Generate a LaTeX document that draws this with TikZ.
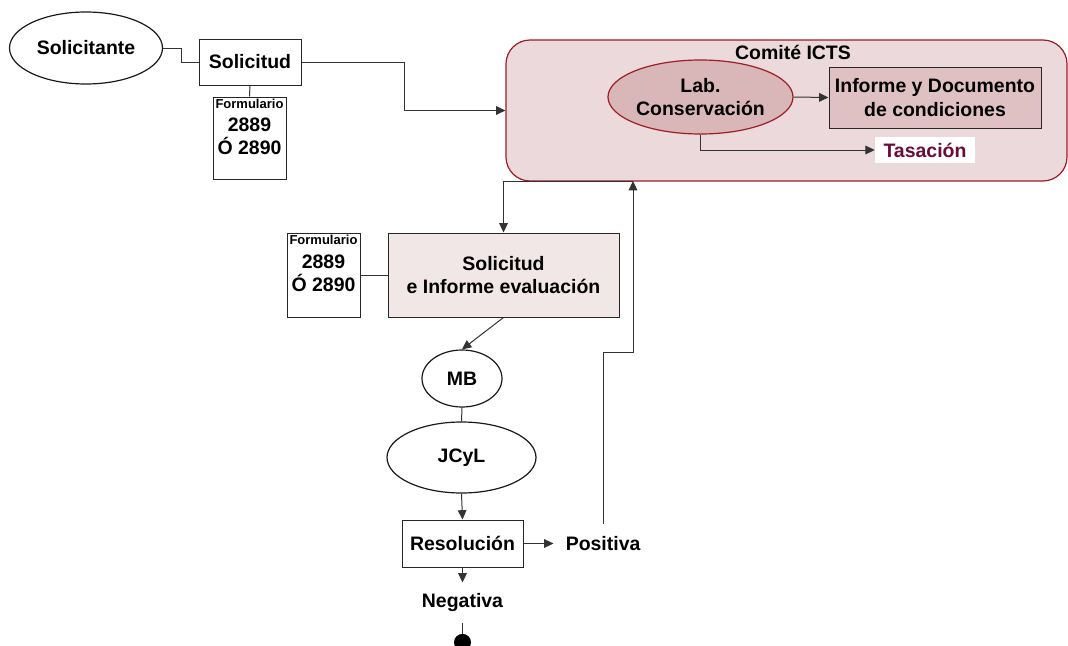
\documentclass[tikz,border=0pt]{standalone}
\usepackage{fontspec}
\setmainfont{Liberation Sans}
\usetikzlibrary{shapes.geometric, arrows.meta, positioning}
\definecolor{comitepink}{RGB}{235,217,219}
\definecolor{comitered}{RGB}{158,28,36}
\definecolor{labpink}{RGB}{217,183,184}
\definecolor{informepink}{RGB}{224,193,195}
\definecolor{evalpink}{RGB}{242,231,231}
\definecolor{tasacionwine}{RGB}{106,12,58}

\begin{document}
\begin{tikzpicture}[
        x=0.75pt, y=-0.75pt,
        txt/.style={font=\fontsize{14.6}{17.5}\selectfont\bfseries, align=center},
        box/.style={txt, draw=black!85, line width=0.75pt, inner sep=0pt},
        oval/.style={txt, ellipse, draw=black!90, line width=0.9pt, inner sep=0pt},
        formbox/.style={draw=black!85, line width=0.75pt, minimum width=54.75pt, minimum height=61.5pt, inner sep=0pt},
        line/.style={draw=black!80, line width=0.75pt},
        arrow/.style={line, -{Triangle[length=7pt, width=6.5pt]}}
    ]
        \useasboundingbox (0,0) rectangle (1068,646);

        % Solicitud
        \node[oval, minimum width=114.75pt, minimum height=54pt] (solicitante) at (86,48) {Solicitante};
        \node[box, minimum width=76.5pt, minimum height=34.5pt] (solicitud) at (250,62) {Solicitud};
        \node[formbox] (form1) at (249.5,138) {};
        \node[txt, below=1.5pt of form1.north, inner sep=0pt] (form1txt) {{\fontsize{9.75}{11}\selectfont Formulario}\\2889\\Ó 2890};

        % Comite ICTS
        \node[draw=comitered, fill=comitepink, rounded corners=18pt, line width=0.9pt, minimum width=420.75pt, minimum height=105.75pt] (comite) at (786.5,110.5) {};
        \node[txt] (comitetit) at (793,52) {Comité ICTS};
        \node[oval, draw=comitered, fill=labpink, minimum width=138.75pt, minimum height=55.5pt] (lab) at (700.5,97) {Lab.\\Conservación};
        \node[box, fill=informepink, minimum width=159pt, minimum height=45.75pt] (informe) at (935,97.5) {Informe y Documento\\de condiciones};
        \node[txt, fill=white, text=tasacionwine, minimum width=75pt, minimum height=19.5pt, inner sep=0pt] (tasacion) at (925,150) {Tasación};
        \coordinate (cbase) at (633,181);

        % Evaluacion
        \node[box, fill=evalpink, minimum width=173.25pt, minimum height=63pt] (eval) at (503.5,275) {Solicitud\\e Informe evaluación};
        \node[formbox, minimum height=63pt] (form2) at (323.5,275) {};
        \node[txt, below=2pt of form2.north, inner sep=0pt] (form2txt) {{\fontsize{9.75}{11}\selectfont Formulario}\\2889\\Ó 2890};
        \node[oval, minimum width=60pt, minimum height=42.75pt] (mb) at (462,378.5) {MB};
        \node[oval, minimum width=111.75pt, minimum height=53.25pt] (jcyl) at (461.5,457.5) {JCyL};
        \node[box, minimum width=90.75pt, minimum height=35.25pt] (resol) at (462.5,543.5) {Resolución};
        \node[txt, right=22.5pt of resol, inner xsep=9pt, inner ysep=9pt] (positiva) {Positiva};
        \node[txt, below=11.25pt of resol, inner xsep=4pt, inner ysep=8pt] (negativa) {Negativa};
        \node[circle, fill=black, minimum size=12.75pt, inner sep=0pt, below=8.25pt of negativa] (fin) {};

        % Arrows - top
        \draw[line] (solicitante.east) -- ++(18,0) |- (solicitud.west);
        \draw[line] (solicitud.south) -- (form1.north);
        \draw[arrow] (solicitud.east) -- ++(103,0) |- (comite.west);
        \draw[arrow] (lab.east) -- (informe.west);
        \draw[arrow] (lab.south) |- (tasacion.west);

        % Arrows - bottom
        \draw[arrow] (cbase) -| (eval.north);
        \draw[line] (form2.east) -- (eval.west);
        \draw[arrow] (eval.south) -- (mb.north);
        \draw[line] (mb.south) -- (jcyl.north);
        \draw[arrow] (jcyl.south) -- (resol.north);
        \draw[arrow] (resol.east) -- (positiva.west);
        \draw[arrow] (resol.south) -- (negativa.north);
        \draw[line] (negativa.south) -- (fin);
        \draw[arrow] (positiva.north) -- ++(0,-172) -| (cbase);
    \end{tikzpicture}
\end{document}
